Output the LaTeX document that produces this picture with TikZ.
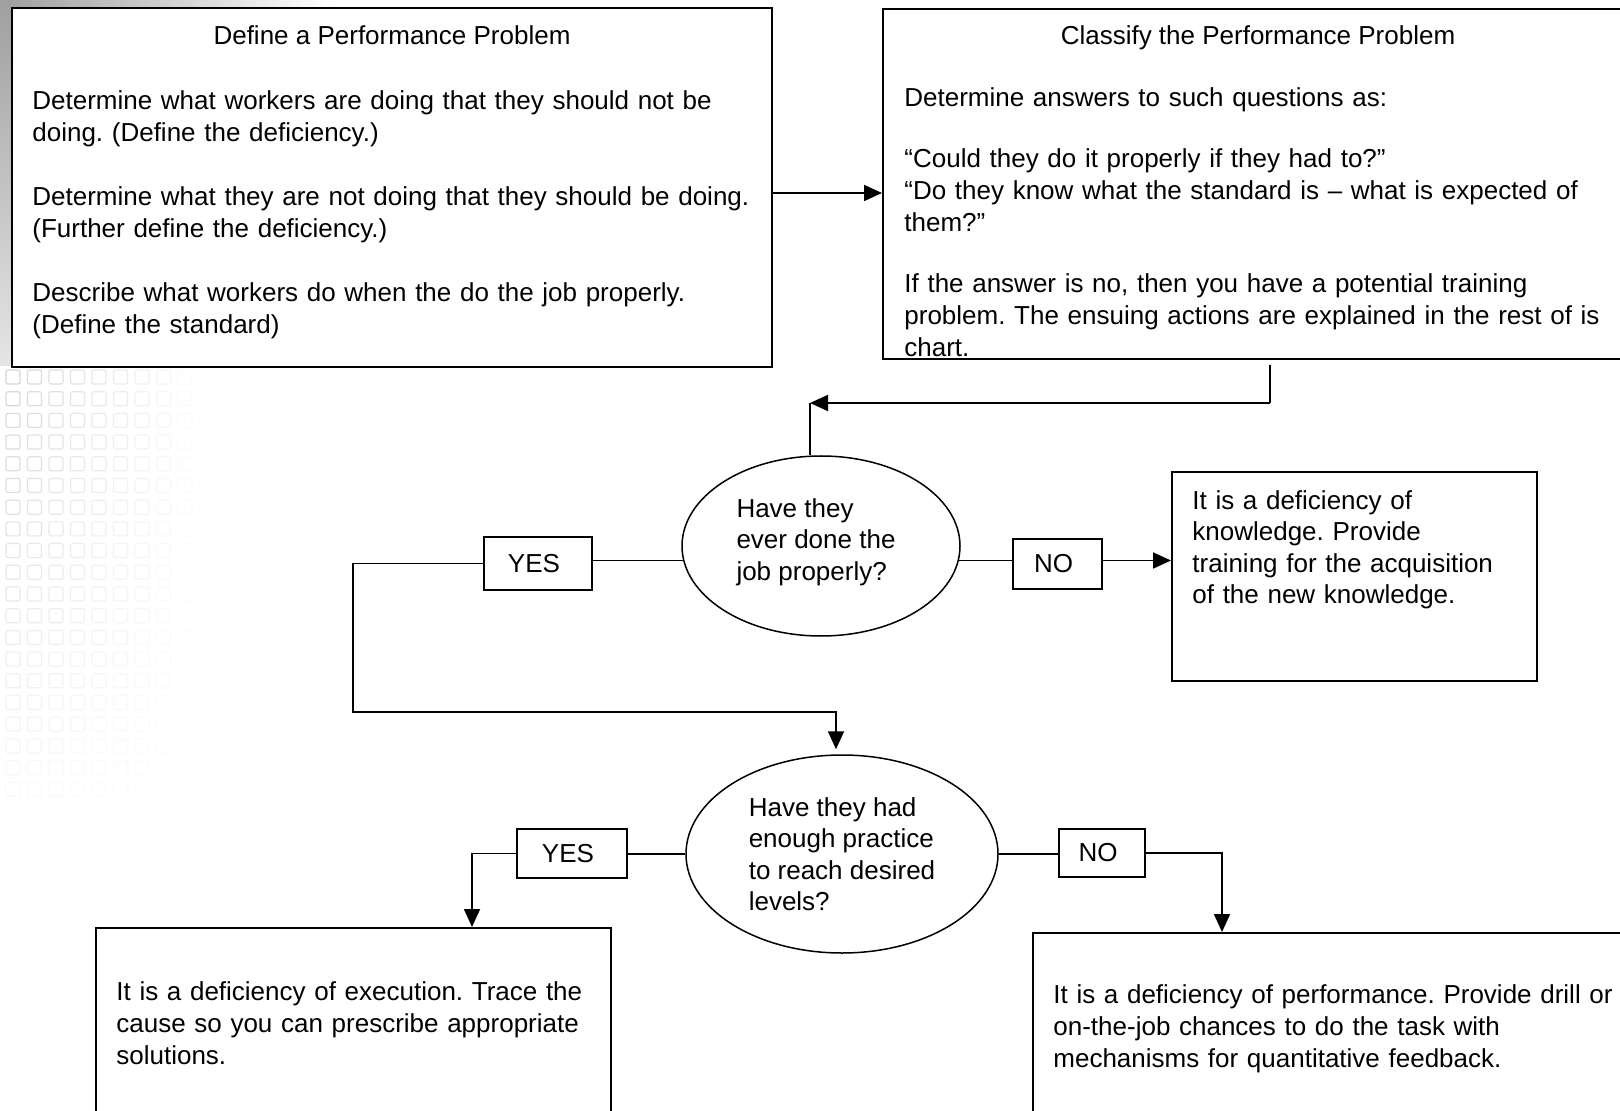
\documentclass[tikz,border=0pt]{standalone}
\usepackage{fontspec}
\setmainfont{Liberation Sans}
\usetikzlibrary{arrows.meta,positioning,shapes.geometric}
\frenchspacing

\begin{document}
\begin{tikzpicture}[
  x=0.5pt,y=-0.5pt,
  txt/.style={font=\fontsize{13pt}{16pt}\selectfont},
  box/.style={draw,line width=1pt,anchor=north west,inner sep=0pt},
  body/.style={txt,anchor=north west,inner sep=0pt,align=left},
  query/.style={draw,ellipse,line width=0.75pt,inner sep=0pt,align=left,
    font=\fontsize{13pt}{15.75pt}\selectfont},
  tag/.style={draw,line width=0.9pt,inner sep=0pt,txt},
  link/.style={line width=0.9pt},
  arr/.style={link,-{Triangle[length=9pt,width=8pt]}}
]
\useasboundingbox (0,0) rectangle (1620,1111);
\clip (0,0) rectangle (1620,1111);
\fill[white] (0,0) rectangle (1620,1111);

% backdrop
\shade[left color=gray!75,right color=white] (0,0) rectangle (330,7);
\shade[top color=gray!75,bottom color=gray!20] (0,0) rectangle (11,366);
\foreach \c in {0,...,8}{
  \foreach \r in {0,...,19}{
    \pgfmathsetmacro\op{0.45*(1-\c/9)*(1-\r/22)}
    \draw[gray!70,line width=0.6pt,rounded corners=1pt,opacity=\op]
      (6+21.5*\c,370+21.7*\r) rectangle ++(14,14);
  }
}

% top row
\node[box,minimum width=380pt,minimum height=179.5pt] (define) at (11,7) {};
\node[txt,anchor=base] (define-title) at (define.north |- 0,44.5) {Define a Performance Problem};
\node[body,text width=365pt] (define-txt) at ([xshift=10.5pt,yshift=-41.5pt]define.north west) {%
Determine what workers are doing that they should not be\\
doing. (Define the deficiency.)\\[16pt]
Determine what they are not doing that they should be doing.\\
(Further define the deficiency.)\\[16pt]
Describe what workers do when the do the job properly.\\
(Define the standard)};

\node[box,minimum width=375pt,minimum height=175pt] (classify) at (882,8) {};
\node[txt,anchor=base] (classify-title) at (classify.north |- 0,44.5) {Classify the Performance Problem};
\node[body,text width=355pt] (classify-txt)
  at ([xshift=11pt,yshift=-39.5pt]classify.north west) {%
Determine answers to such questions as:\\[14.5pt]
“Could they do it properly if they had to?”\\
“Do they know what the standard is – what is expected of\\
them?”\\[14.5pt]
If the answer is no, then you have a potential training\\
problem. The ensuing actions are explained in the rest of is\\
chart.};

% first question
\node[query,minimum width=139pt,minimum height=90pt] (q1) at (821,546)
  {Have they\\ever done the\rule{5pt}{0pt}\\job properly?\rule[-6.7pt]{0pt}{1pt}};
\node[tag,minimum width=54pt,minimum height=26.5pt] (yes1) at (538,563.5) {YES\rule{4pt}{0pt}};
\node[tag,minimum width=44.5pt,minimum height=25pt] (no1) at (1057.5,564) {NO\rule{4pt}{0pt}};

\node[box,minimum width=182.5pt,minimum height=104.5pt] (knowledge) at (1171,471) {};
\node[body,text width=170pt,font=\fontsize{13pt}{15.75pt}\selectfont] (knowledge-txt)
  at ([xshift=10.5pt,yshift=-9.5pt]knowledge.north west) {%
It is a deficiency of\\
knowledge. Provide\\
training for the acquisition\\
of the new knowledge.};

% second question
\node[query,minimum width=156pt,minimum height=99pt] (q2) at (842,854)
  {Have they had\\enough practice\\to reach desired\\levels?};
\node[tag,minimum width=55pt,minimum height=24.5pt] (yes2) at (572,853.5) {YES\rule{4pt}{0pt}};
\node[tag,minimum width=43pt,minimum height=24pt] (no2) at (1102,853) {NO\rule{4pt}{0pt}};

\node[box,minimum width=257.5pt,minimum height=110pt] (exec) at (95,927) {};
\node[body,text width=245pt] (exec-txt) at ([xshift=10.5pt,yshift=-27pt]exec.north west) {%
It is a deficiency of execution. Trace the\\
cause so you can prescribe appropriate\\
solutions.};

\node[box,minimum width=310pt,minimum height=110pt] (perform) at (1032,932) {};
\node[body,text width=300pt] (perform-txt) at ([xshift=10.5pt,yshift=-26pt]perform.north west) {%
It is a deficiency of performance. Provide drill or\\
on-the-job chances to do the task with\\
mechanisms for quantitative feedback.};

% connectors
\coordinate (c1) at (0,193);
\draw[arr] (define.east |- c1) -- (classify.west |- c1);

\coordinate (turn1) at (1270,403);
\coordinate (corner1) at (810,403);
\draw[link,shorten <=2.5pt] (classify.south -| turn1) -- (turn1);
\draw[arr] (turn1) -- (corner1);
\draw[link] (corner1) -- (q1.north -| corner1);

\draw[link] (q1.186) -- (yes1.east |- q1.186);
\draw[link] (q1.-6) -- (no1.west |- q1.-6);
\draw[arr] (no1.east |- q1.-6) -- (knowledge.west |- q1.-6);

\coordinate (loop) at (353,712);
\coordinate (drop) at (836,712);
\draw[arr,shorten >=2.5pt] (yes1.west) -| (loop) -- (drop) -- (q2.north -| drop);

\draw[link] (q2.west) -- (yes2.east |- q2.west);
\draw[link] (q2.east) -- (no2.west |- q2.east);
\coordinate (yesdrop) at (472,0);
\coordinate (nodrop) at (1222,0);
\draw[arr] (yes2.west) -| (yesdrop |- exec.north);
\draw[arr] (no2.east) -| (nodrop |- perform.north);
\end{tikzpicture}
\end{document}
